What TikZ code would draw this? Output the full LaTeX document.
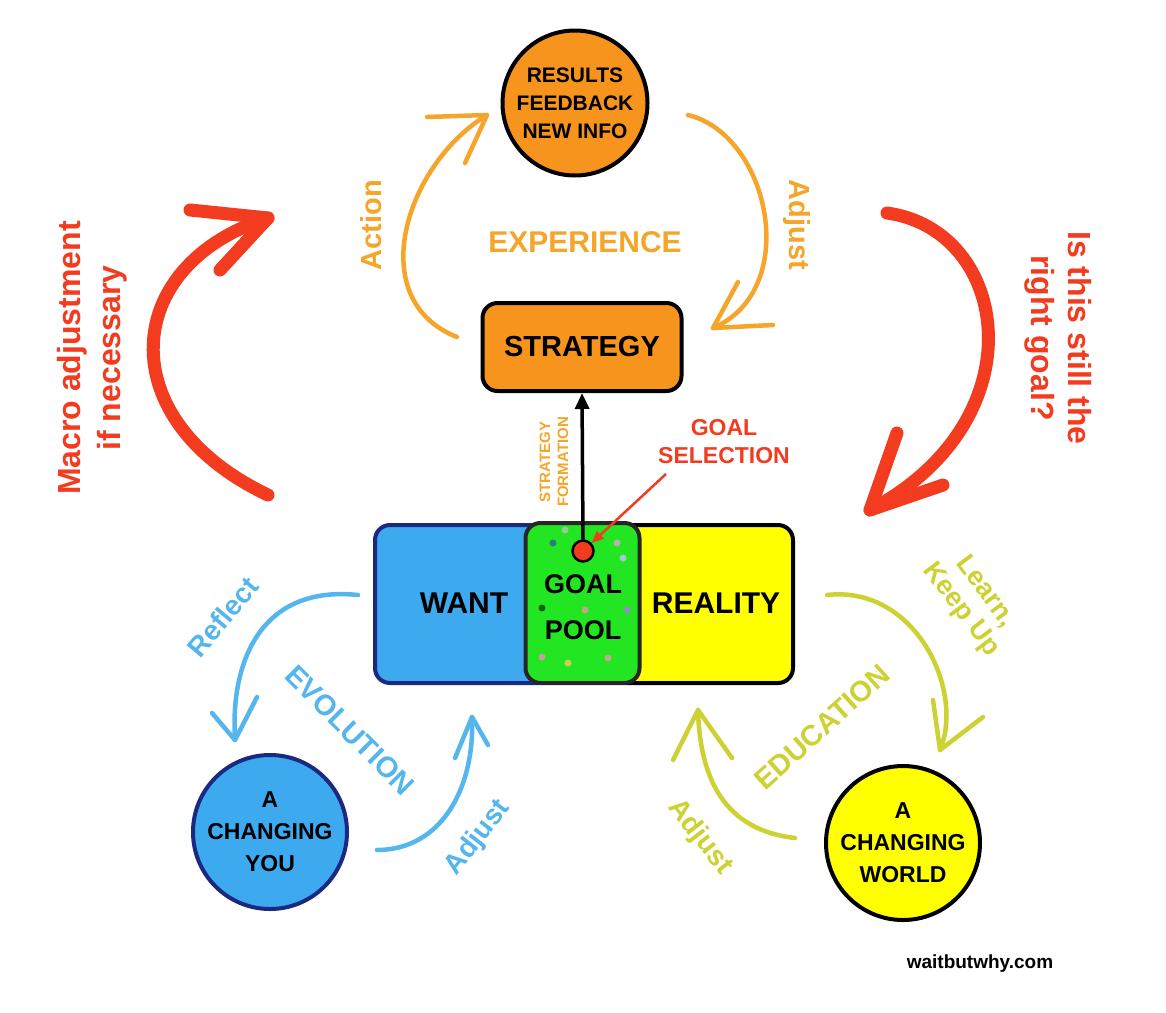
\documentclass[tikz,border=0pt]{standalone}
\usepackage{fontspec}
\setmainfont{Liberation Sans}
\usetikzlibrary{arrows.meta}
\definecolor{orfill}{HTML}{F7941D}
\definecolor{orline}{HTML}{F5A52A}
\definecolor{redc}{HTML}{F23B1F}
\definecolor{bluec}{HTML}{54B6EC}
\definecolor{bluefill}{HTML}{3DAAF0}
\definecolor{navy}{HTML}{1B2A80}
\definecolor{greenc}{HTML}{22E622}
\definecolor{yellowc}{HTML}{FFFF00}
\definecolor{eduline}{HTML}{CDD232}
\begin{document}
\begin{tikzpicture}[x=1pt,y=-1pt,
  orarc/.style={draw=orline,line width=4.5pt,line cap=round,line join=round},
  redarc/.style={draw=redc,line width=13pt,line cap=round,line join=round},
  bluearc/.style={draw=bluec,line width=4.5pt,line cap=round,line join=round},
  eduarc/.style={draw=eduline,line width=4.5pt,line cap=round,line join=round},
  bigcirc/.style={circle,line width=4pt,minimum size=150pt,inner sep=0pt,align=center,
    font=\bfseries\fontsize{22}{30}\selectfont},
  lab/.style={inner sep=0pt,align=center},
  dot/.style={circle,inner sep=0pt,minimum size=7pt}
]
\useasboundingbox (0,0) rectangle (1166,1012);
\fill[white] (0,0) rectangle (1166,1012);

% ---------- Experience cycle ----------
\node[bigcirc,draw=black,fill=orfill,minimum size=145pt,
  font=\bfseries\fontsize{21}{28}\selectfont] (res) at (575,103) {RESULTS\\FEEDBACK\\NEW INFO};
\node[draw=black,fill=orfill,line width=4pt,rounded corners=15pt,minimum width=199pt,
  minimum height=88pt,font=\bfseries\fontsize{29}{30}\selectfont] (strat) at (582,347) {STRATEGY};

\coordinate (a1s) at (457,337);
\coordinate (a1e) at (487,115);
\draw[orarc] (a1s) .. controls (363,300) and (405,165) .. (a1e);
\draw[orarc] (427,117) -- (a1e) -- (465,163);
\coordinate (a2s) at (688,115);
\coordinate (a2e) at (713,328);
\draw[orarc] (a2s) .. controls (770,135) and (802,290) .. (a2e);
\draw[orarc] (738,282) -- (a2e) -- (773,325);

\node[lab,text=orline,rotate=90,font=\bfseries\fontsize{29}{30}\selectfont] (action) at (371,225) {Action};
\node[lab,text=orline,rotate=-90,font=\bfseries\fontsize{29}{30}\selectfont] (adj1) at (797,225) {Adjust};
\node[lab,text=orline,font=\bfseries\fontsize{30}{30}\selectfont] (exper) at (585,242) {EXPERIENCE};

% ---------- Red macro arrows ----------
\coordinate (r1s) at (268,495);
\coordinate (r1e) at (268,218);
\draw[redarc] (r1s) .. controls (110,420) and (120,265) .. (r1e);
\draw[redarc] (190,210) -- (r1e) -- (220,270);
\node[lab,text=redc,rotate=90,font=\bfseries\fontsize{32}{40}\selectfont] (macro) at (92,358) {Macro adjustment\\if necessary};

\coordinate (r2s) at (887,213);
\coordinate (r2e) at (870,510);
\draw[redarc] (r2s) .. controls (1010,230) and (1040,420) .. (r2e);
\draw[redarc] (897,433) -- (r2e) -- (943,485);
\node[lab,text=redc,rotate=-90,font=\bfseries\fontsize{32}{37}\selectfont] (rightq) at (1058,338) {Is this still the\\right goal?};

% ---------- Central boxes ----------
\draw[draw=navy,fill=bluefill,line width=4pt,rounded corners=15pt] (375,525) rectangle (555,683);
\draw[draw=black,fill=yellowc,line width=4pt,rounded corners=15pt] (610,525) rectangle (793,683);
\node[draw=black!85,fill=greenc,line width=4pt,rounded corners=15pt,minimum width=114pt,
  minimum height=160pt] (pool) at (582.5,603) {};
\node[lab,font=\bfseries\fontsize{30}{30}\selectfont] (want) at (464,603) {WANT};
\node[lab,font=\bfseries\fontsize{30}{30}\selectfont] (reality) at (716,603) {REALITY};
\node[lab,font=\bfseries\fontsize{27}{46}\selectfont] (goalpool) at (583,607) {GOAL\\POOL};

% pool dots
\node[dot,fill=teal!70!gray] (d1) at (553,543) {};
\node[dot,fill=cyan!40!gray!60] (d2) at (623,558) {};
\node[dot,fill=green!40!black] (d3) at (542,608) {};
\node[dot,fill=brown!60!gray!70] (d4) at (585,610) {};
\node[dot,fill=blue!25!gray!70] (d5) at (627,610) {};
\node[dot,fill=red!25!gray!60] (d6) at (542,657) {};
\node[dot,fill=yellow!60!gray] (d7) at (568,663) {};
\node[dot,fill=brown!70!gray!70] (d8) at (608,658) {};
\node[dot,fill=gray!60] (d9) at (617,543) {};
\node[dot,fill=green!30!gray!60] (d10) at (565,530) {};

\node[circle,draw=black,fill=redc,line width=2.5pt,minimum size=21pt,inner sep=0pt] (sel) at (583,551) {};

\draw[line width=3.5pt,-{Triangle[length=16pt,width=14pt]}] (sel.north) -- (strat.south);
\node[lab,text=orline,rotate=90,font=\bfseries\fontsize{15}{18}\selectfont] (stratform) at (554,462) {STRATEGY\\FORMATION};

\node[lab,text=redc,font=\bfseries\fontsize{23}{28}\selectfont] (goalsel) at (724,442) {GOAL\\SELECTION};
\coordinate (gss) at (666,474);
\draw[redc,line width=2.5pt,-{Triangle[length=12pt,width=10pt]}] (gss) -- (sel);

% ---------- Evolution cycle ----------
\node[bigcirc,draw=navy,fill=bluefill,minimum size=154pt,
  font=\bfseries\fontsize{23}{32}\selectfont] (you) at (270,832) {A\\CHANGING\\YOU};
\coordinate (b1s) at (358,595);
\coordinate (b1e) at (235,740);
\draw[bluearc] (b1s) .. controls (262,585) and (230,660) .. (b1e);
\draw[bluearc] (212,713) -- (b1e) -- (257,697);
\coordinate (b2s) at (377,850);
\coordinate (b2e) at (472,717);
\draw[bluearc] (b2s) .. controls (440,850) and (475,790) .. (b2e);
\draw[bluearc] (455,758) -- (b2e) -- (488,745);
\node[lab,text=bluec,rotate=50,font=\bfseries\fontsize{28}{30}\selectfont] (reflect) at (223,617) {Reflect};
\node[lab,text=bluec,rotate=-45,font=\bfseries\fontsize{29}{30}\selectfont] (evol) at (350,730) {EVOLUTION};
\node[lab,text=bluec,rotate=52,font=\bfseries\fontsize{28}{30}\selectfont] (adj2) at (478,838) {Adjust};

% ---------- Education cycle ----------
\node[bigcirc,draw=black,fill=yellowc,minimum size=154pt,
  font=\bfseries\fontsize{23}{32}\selectfont] (world) at (903,843) {A\\CHANGING\\WORLD};
\coordinate (y1s) at (827,595);
\coordinate (y1e) at (940,750);
\draw[eduarc] (y1s) .. controls (915,585) and (965,690) .. (y1e);
\draw[eduarc] (933,700) -- (y1e) -- (983,717);
\coordinate (y2s) at (795,838);
\coordinate (y2e) at (698,710);
\draw[eduarc] (y2s) .. controls (725,830) and (700,780) .. (y2e);
\draw[eduarc] (673,760) -- (y2e) -- (732,758);
\node[lab,text=eduline,rotate=-53,font=\bfseries\fontsize{27}{30}\selectfont] (learn) at (973,601) {Learn,\\Keep Up};
\node[lab,text=eduline,rotate=42,font=\bfseries\fontsize{29}{30}\selectfont] (educ) at (822,727) {EDUCATION};
\node[lab,text=eduline,rotate=-52,font=\bfseries\fontsize{28}{30}\selectfont] (adj3) at (700,837) {Adjust};

\node[lab,font=\bfseries\fontsize{19}{20}\selectfont] (wbw) at (980,964) {waitbutwhy.com};
\end{tikzpicture}
\end{document}
